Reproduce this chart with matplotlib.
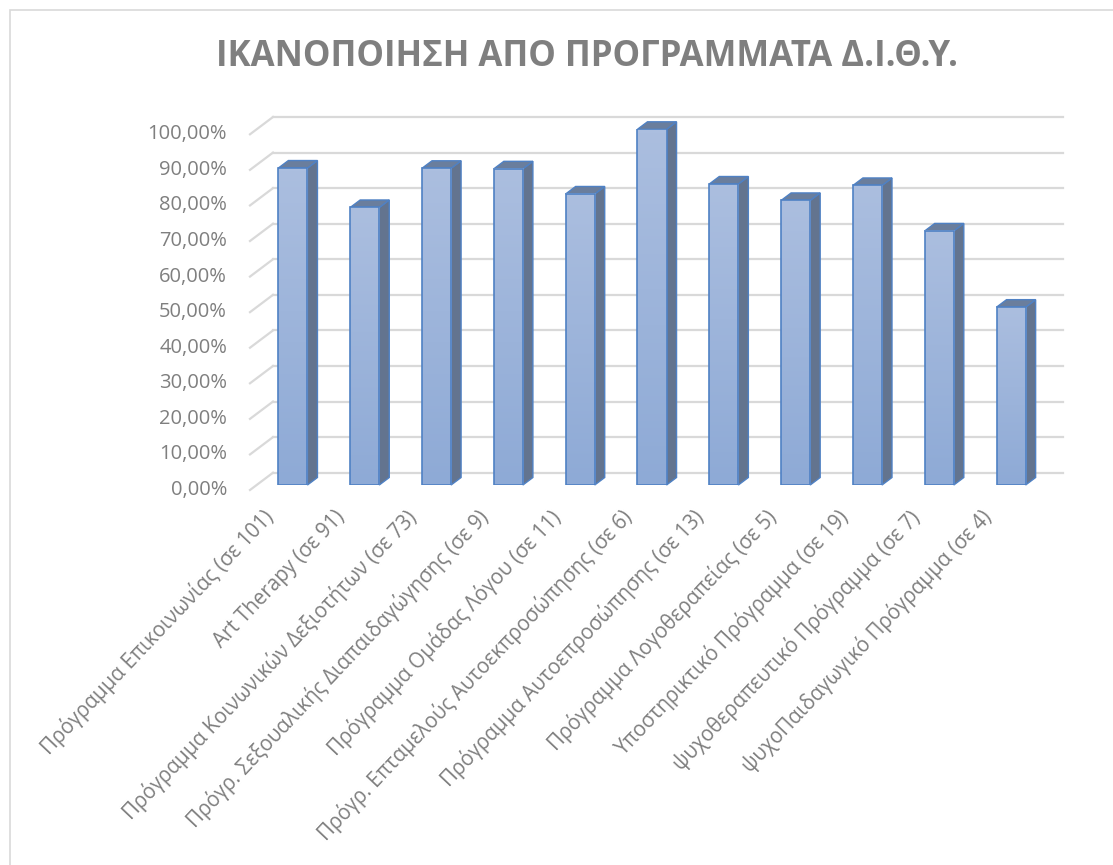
import numpy as np
import matplotlib
matplotlib.use("Agg")
import matplotlib.pyplot as plt
from matplotlib.patches import Polygon, Rectangle
from matplotlib.lines import Line2D
from matplotlib.transforms import IdentityTransform, offset_copy
from matplotlib.colors import LinearSegmentedColormap

# data
programs = [
    "Πρόγραμμα Επικοινωνίας (σε 101)",
    "Art Therapy (σε 91)",
    "Πρόγραμμα Κοινωνικών Δεξιοτήτων (σε 73)",
    "Πρόγρ. Σεξουαλικής Διαπαιδαγώγησης (σε 9)",
    "Πρόγραμμα Ομάδας Λόγου (σε 11)",
    "Πρόγρ. Επταμελούς Αυτοεκπροσώπησης (σε 6)",
    "Πρόγραμμα Αυτοεπροσώπησης (σε 13)",
    "Πρόγραμμα Λογοθεραπείας (σε 5)",
    "Υποστηρικτικό Πρόγραμμα (σε 19)",
    "ψυχοθεραπευτικό Πρόγραμμα (σε 7)",
    "ψυχοΠαιδαγωγικό Πρόγραμμα (σε 4)",
]
satisfaction = [89.11, 78.02, 89.04, 88.89, 81.82, 100.0, 84.62, 80.0, 84.21, 71.43, 50.0]
y_ticks = [0, 10, 20, 30, 40, 50, 60, 70, 80, 90, 100]
y_labels = ["0,00%", "10,00%", "20,00%", "30,00%", "40,00%", "50,00%",
            "60,00%", "70,00%", "80,00%", "90,00%", "100,00%"]
title = "ΙΚΑΝΟΠΟΙΗΣΗ ΑΠΟ ΠΡΟΓΡΑΜΜΑΤΑ Δ.Ι.Θ.Υ."

plt.rcParams['font.family'] = ['Open Sans', 'DejaVu Sans']
grey = '#7f7f7f'
grid_col = '#d9d9d9'
edge_col = '#4f81c4'

W, H = 1113, 865
fig = plt.figure(figsize=(W / 100, H / 100), dpi=100)
ax = fig.add_axes([257 / W, (H - 485) / H, 790 / W, 355.7 / H])
ax.set_xlim(-0.5, len(programs) - 0.5)
ax.set_ylim(0, 100)
ax.set_autoscale_on(False)
ax.axis('off')

# chart border
fig.add_artist(Rectangle((10 / W, -0.1), 1.2, 1 - 10 / H + 0.1, transform=fig.transFigure,
                         fill=False, edgecolor=grid_col, linewidth=1.2))

# depth offsets in pixels (display coords, y up)
back = (16, 12.3)
front = (-7, -5)
bar_d = (10, 7.5)

# back wall grid + side wall diagonals
back_tr = offset_copy(ax.transData, fig, x=back[0], y=back[1], units='dots')
for v in y_ticks:
    ax.plot([-0.5, len(programs) - 0.5], [v, v], color=grid_col, lw=1.6,
            transform=back_tr, clip_on=False, zorder=1)
    p = ax.transData.transform((-0.5, v))
    fig.add_artist(Line2D([p[0] + front[0], p[0] + back[0]], [p[1] + front[1], p[1] + back[1]],
                          transform=IdentityTransform(), color=grid_col, lw=1.6))

# y labels on the front plane
lab_tr = offset_copy(ax.transData, fig, x=-30, y=-5, units='dots')
for v, s in zip(y_ticks, y_labels):
    ax.text(-0.5, v, s, transform=lab_tr, ha='right', va='center',
            fontsize=14.5, color=grey)

# bars
x = np.arange(len(programs))
w = 0.405
cmap = LinearSegmentedColormap.from_list('g', ['#8eaad6', '#abbedf'])
grad = np.linspace(0, 1, 100).reshape(-1, 1)
bars = ax.bar(x, satisfaction, width=w, facecolor='none', edgecolor=edge_col,
              linewidth=1.2, zorder=5)
for b in bars:
    x0, y0 = b.get_x(), b.get_y()
    x1, y1 = x0 + b.get_width(), y0 + b.get_height()
    ax.imshow(grad, extent=(x0, x1, y0, y1), origin='lower', cmap=cmap,
              aspect='auto', zorder=4)
    bl = ax.transData.transform((x0, y0))
    br = ax.transData.transform((x1, y0))
    tl = ax.transData.transform((x0, y1))
    tr = ax.transData.transform((x1, y1))
    d = np.array(bar_d)
    side = Polygon([tr, br, br + d, tr + d], closed=True, transform=IdentityTransform(),
                   facecolor='#63748f', edgecolor=edge_col, linewidth=1.0, zorder=3)
    top = Polygon([tl, tr, tr + d, tl + d], closed=True, transform=IdentityTransform(),
                  facecolor='#6a7e9d', edgecolor=edge_col, linewidth=1.0, zorder=3)
    ax.add_patch(side)
    ax.add_patch(top)
    side.set_clip_on(False)
    top.set_clip_on(False)
ax.set_xlim(-0.5, len(programs) - 0.5)
ax.set_ylim(0, 100)

# category labels
cat_tr = offset_copy(ax.transData, fig, x=-23, y=-29, units='dots')
for i, s in enumerate(programs):
    ax.text(i, 0, s, transform=cat_tr, rotation=46.5, rotation_mode='anchor',
            ha='right', va='center', fontsize=14.8, color=grey)

fig.text(586.5 / W, 1 - 57 / H, title, ha='center', va='center', fontsize=25,
         fontweight='bold', color=grey)

fig.savefig('out.png', dpi=100)
